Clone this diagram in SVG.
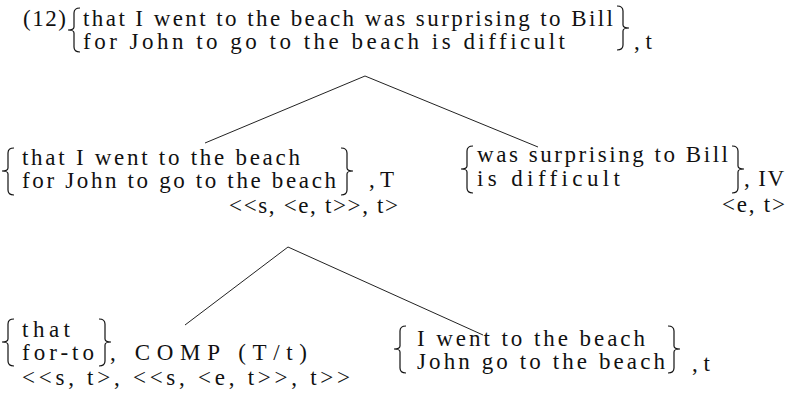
<svg xmlns="http://www.w3.org/2000/svg" width="790" height="419" viewBox="0 0 790 419">
<style>
text{font-family:"Liberation Serif","Times New Roman",serif;font-size:23px;fill:#111}
.br{fill:none;stroke:#111;stroke-width:1.2}
.edge{stroke:#222;stroke-width:1;fill:none}
</style>
<rect width="790" height="419" fill="#fff"/>
<g id="connectors">
<line class="edge" x1="365" y1="76" x2="205" y2="143"/>
<line class="edge" x1="365" y1="76" x2="538" y2="147"/>
<line class="edge" x1="288" y1="247" x2="185" y2="325"/>
<line class="edge" x1="288" y1="247" x2="483" y2="335"/>
</g>
<g id="root">
<text x="23" y="26" textLength="43" lengthAdjust="spacing">(12)</text>
<path class="br" d="M80,8 Q74,8 74,13 L74,27 Q74,30 68,30 Q74,30 74,33 L74,47 Q74,52 80,52"/>
<text x="83" y="26" textLength="530" lengthAdjust="spacing">that I went to the beach was surprising to Bill</text>
<text x="83" y="49" textLength="482" lengthAdjust="spacing">for John to go to the beach is difficult</text>
<path class="br" d="M617,6 Q623,6 623,11 L623,25 Q623,28 629,28 Q623,28 623,31 L623,45 Q623,50 617,50"/>
<text x="634" y="49">, t</text>
</g>
<g id="node-T">
<path class="br" d="M14,148 Q8,148 8,153 L8,168 Q8,171 2,171 Q8,171 8,174 L8,190 Q8,195 14,195"/>
<text x="22" y="165" textLength="278" lengthAdjust="spacing">that I went to the beach</text>
<text x="22" y="188" textLength="314" lengthAdjust="spacing">for John to go to the beach</text>
<path class="br" d="M341,148 Q347,148 347,153 L347,168 Q347,171 353,171 Q347,171 347,174 L347,190 Q347,195 341,195"/>
<text x="369" y="187">, T</text>
<text x="229" y="213" textLength="169" lengthAdjust="spacing">&lt;&lt;s, &lt;e, t&gt;&gt;, t&gt;</text>
</g>
<g id="node-IV">
<path class="br" d="M473,146 Q467,146 467,151 L467,166 Q467,169 461,169 Q467,169 467,172 L467,188 Q467,193 473,193"/>
<text x="477" y="162" textLength="251" lengthAdjust="spacing">was surprising to Bill</text>
<text x="477" y="186" textLength="143" lengthAdjust="spacing">is difficult</text>
<path class="br" d="M732,146 Q738,146 738,151 L738,166 Q738,169 744,169 Q738,169 738,172 L738,188 Q738,193 732,193"/>
<text x="744" y="186" textLength="40" lengthAdjust="spacing">, IV</text>
<text x="722" y="212" textLength="63" lengthAdjust="spacing">&lt;e, t&gt;</text>
</g>
<g id="node-COMP">
<path class="br" d="M14,319 Q8,319 8,324 L8,339 Q8,342 2,342 Q8,342 8,345 L8,361 Q8,366 14,366"/>
<text x="22" y="337" textLength="48" lengthAdjust="spacing">that</text>
<text x="22" y="360" textLength="72" lengthAdjust="spacing">for-to</text>
<path class="br" d="M99,319 Q105,319 105,324 L105,339 Q105,342 111,342 Q105,342 105,345 L105,361 Q105,366 99,366"/>
<text x="110" y="360" textLength="197" lengthAdjust="spacing">, COMP (T/t)</text>
<text x="22" y="385" textLength="328" lengthAdjust="spacing">&lt;&lt;s, t&gt;, &lt;&lt;s, &lt;e, t&gt;&gt;, t&gt;&gt;</text>
</g>
<g id="node-t">
<path class="br" d="M406,326 Q400,326 400,331 L400,346 Q400,349 394,349 Q400,349 400,352 L400,368 Q400,373 406,373"/>
<text x="417" y="346" textLength="228" lengthAdjust="spacing">I went to the beach</text>
<text x="417" y="369" textLength="248" lengthAdjust="spacing">John go to the beach</text>
<path class="br" d="M668,326 Q674,326 674,331 L674,346 Q674,349 680,349 Q674,349 674,352 L674,368 Q674,373 668,373"/>
<text x="692" y="371">, t</text>
</g>
</svg>
